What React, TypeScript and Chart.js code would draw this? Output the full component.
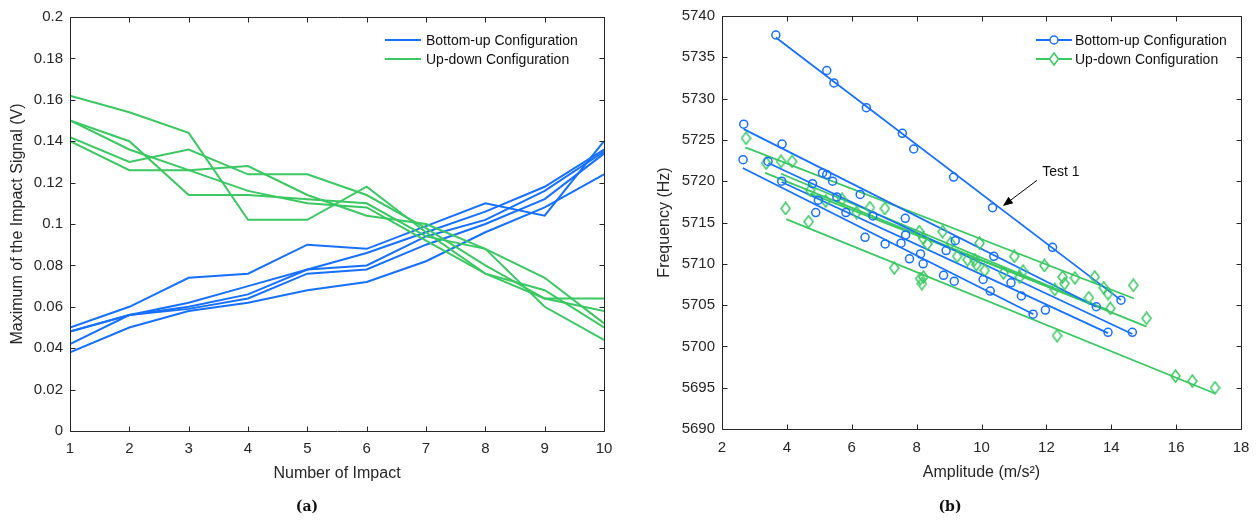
import React, { useEffect, useRef } from 'react';
import { Chart, registerables } from 'chart.js';

Chart.register(...registerables);

// ---------- (a) Maximum of the impact signal ----------
const impactNumbers = [1, 2, 3, 4, 5, 6, 7, 8, 9, 10];
const bottomUpTest1 = [0.050, 0.060, 0.074, 0.076, 0.090, 0.088, 0.099, 0.110, 0.104, 0.140];
const bottomUpTest2 = [0.048, 0.056, 0.062, 0.070, 0.078, 0.086, 0.096, 0.106, 0.118, 0.136];
const bottomUpTest3 = [0.042, 0.056, 0.060, 0.066, 0.078, 0.080, 0.094, 0.102, 0.116, 0.135];
const bottomUpTest4 = [0.048, 0.056, 0.059, 0.064, 0.076, 0.078, 0.090, 0.100, 0.112, 0.134];
const bottomUpTest5 = [0.038, 0.050, 0.058, 0.062, 0.068, 0.072, 0.082, 0.096, 0.108, 0.124];
const upDownTest1 = [0.162, 0.154, 0.144, 0.102, 0.102, 0.118, 0.096, 0.076, 0.064, 0.064];
const upDownTest2 = [0.150, 0.140, 0.114, 0.114, 0.112, 0.110, 0.094, 0.088, 0.060, 0.044];
const upDownTest3 = [0.150, 0.136, 0.126, 0.116, 0.110, 0.108, 0.092, 0.076, 0.068, 0.050];
const upDownTest4 = [0.142, 0.130, 0.136, 0.124, 0.124, 0.114, 0.098, 0.080, 0.064, 0.058];
const upDownTest5 = [0.140, 0.126, 0.126, 0.128, 0.114, 0.104, 0.100, 0.088, 0.074, 0.052];

// ---------- (b) Frequency vs amplitude ----------
const bottomUpAmp = [
  3.66, 5.23, 5.45, 6.45, 7.56, 7.91, 9.14, 10.34, 12.19, 14.3,
  2.67, 2.65, 3.85, 3.42, 3.84, 4.79, 5.10, 5.23, 5.41, 4.97,
  5.54, 6.26, 4.89, 5.82, 6.65, 6.41, 7.03, 7.52, 7.65, 7.66,
  7.78, 8.12, 8.20, 8.83, 8.91, 9.19, 9.16, 10.05, 10.38, 10.27,
  10.91, 11.23, 11.59, 11.97, 13.54, 13.9, 14.65,
];
const bottomUpFreq = [
  5737.7, 5733.4, 5731.9, 5728.9, 5725.8, 5723.9, 5720.5, 5716.8, 5712.0, 5705.6,
  5726.9, 5722.6, 5724.5, 5722.4, 5720.0, 5719.7, 5721.0, 5720.8, 5720.0, 5717.7,
  5718.1, 5718.4, 5716.2, 5716.2, 5715.8, 5713.2, 5712.4, 5712.5, 5715.5, 5713.5,
  5710.6, 5711.2, 5710.0, 5708.6, 5711.6, 5712.8, 5707.9, 5708.1, 5710.9, 5706.7,
  5707.7, 5706.1, 5703.9, 5704.4, 5704.8, 5701.7, 5701.7,
];
const upDownAmp = [
  2.74, 3.36, 3.82, 4.16, 4.72, 5.20, 5.70, 6.15, 6.56, 7.02,
  3.96, 4.67, 8.08, 8.20, 8.33, 8.80, 9.05, 9.25, 7.31, 8.11,
  8.21, 8.16, 9.94, 9.57, 9.79, 9.84, 10.10, 11.01, 10.68, 11.28,
  11.18, 11.94, 12.26, 12.50, 12.56, 12.88, 13.31, 13.49, 13.77, 13.90,
  13.97, 14.68, 15.09, 12.33, 15.98, 16.50, 17.20,
];
const upDownFreq = [
  5725.2, 5722.2, 5722.4, 5722.4, 5718.9, 5717.6, 5717.8, 5716.2, 5716.8, 5716.7,
  5716.7, 5715.1, 5713.9, 5713.1, 5712.4, 5713.9, 5712.5, 5710.9, 5709.5, 5708.2,
  5708.4, 5707.6, 5712.5, 5710.5, 5710.5, 5709.9, 5709.2, 5710.9, 5708.9, 5709.1,
  5708.4, 5709.8, 5706.9, 5708.4, 5707.6, 5708.3, 5705.9, 5708.4, 5707.1, 5706.4,
  5704.6, 5707.4, 5703.4, 5701.3, 5696.4, 5695.8, 5695.0,
];
// fitted lines: [start, end]
const bottomUpFitAmp = [[3.66, 14.3], [2.67, 13.54], [3.43, 14.65], [3.84, 13.9], [2.64, 11.6]];
const bottomUpFitFreq = [[5737.4, 5705.6], [5726.3, 5704.8], [5722.2, 5701.5], [5719.9, 5701.6], [5721.6, 5703.9]];
const upDownFitAmp = [[2.72, 14.7], [3.33, 15.09], [3.82, 13.49], [4.72, 13.91], [3.98, 17.2]];
const upDownFitFreq = [[5724.1, 5705.8], [5721.0, 5702.4], [5720.9, 5705.0], [5718.5, 5704.4], [5715.4, 5694.3]];

const leftTicksY = { min: 0, max: 0.2, step: 0.02 };
const rightTicksY = { min: 5690, max: 5740, step: 5 };
const rightTicksX = { min: 2, max: 18, step: 2 };

const BLUE = 'rgb(22,112,255)';
const GREEN = 'rgb(58,200,98)';
const AXIS = '#262626';
const FONT = '"Liberation Sans", Arial, Helvetica, sans-serif';

Chart.defaults.font.family = FONT;
Chart.defaults.color = AXIS;

function makeDiamond(color: string) {
  const c = document.createElement('canvas');
  c.width = 11;
  c.height = 14;
  const g = c.getContext('2d')!;
  g.strokeStyle = color;
  g.lineWidth = 1.5;
  g.beginPath();
  g.moveTo(5.5, 1);
  g.lineTo(10, 7);
  g.lineTo(5.5, 13);
  g.lineTo(1, 7);
  g.closePath();
  g.stroke();
  return c;
}

const framePlugin = {
  id: 'matlabFrame',
  afterDraw(chart: any) {
    const { ctx, chartArea: a, scales } = chart;
    const L = 5;
    ctx.save();
    ctx.strokeStyle = AXIS;
    ctx.lineWidth = 1;
    ctx.beginPath();
    const l = Math.round(a.left) + 0.5, r = Math.round(a.right) + 0.5;
    const t = Math.round(a.top) + 0.5, b = Math.round(a.bottom) + 0.5;
    ctx.rect(l, t, r - l, b - t);
    scales.x.ticks.forEach((tk: any) => {
      const px = Math.round(scales.x.getPixelForValue(tk.value)) + 0.5;
      ctx.moveTo(px, b); ctx.lineTo(px, b - L);
      ctx.moveTo(px, t); ctx.lineTo(px, t + L);
    });
    scales.y.ticks.forEach((tk: any) => {
      const py = Math.round(scales.y.getPixelForValue(tk.value)) + 0.5;
      ctx.moveTo(l, py); ctx.lineTo(l + L, py);
      ctx.moveTo(r, py); ctx.lineTo(r - L, py);
    });
    ctx.stroke();
    ctx.restore();
  },
};

function legendPlugin(items: { label: string; color: string; marker?: 'circle' | 'diamond' }[], x0: number, x1: number, tx: number, y0: number, dy: number) {
  return {
    id: 'customLegend',
    afterDraw(chart: any) {
      const { ctx } = chart;
      ctx.save();
      items.forEach((it, i) => {
        const y = y0 + i * dy;
        ctx.strokeStyle = it.color;
        ctx.lineWidth = 1.8;
        ctx.beginPath();
        ctx.moveTo(x0, y);
        ctx.lineTo(x1, y);
        ctx.stroke();
        const cx = (x0 + x1) / 2;
        if (it.marker === 'circle') {
          ctx.fillStyle = '#fff';
          ctx.lineWidth = 1.5;
          ctx.beginPath();
          ctx.arc(cx, y, 4, 0, Math.PI * 2);
          ctx.fill();
          ctx.stroke();
        } else if (it.marker === 'diamond') {
          ctx.fillStyle = '#fff';
          ctx.lineWidth = 1.5;
          ctx.beginPath();
          ctx.moveTo(cx, y - 6);
          ctx.lineTo(cx + 4.5, y);
          ctx.lineTo(cx, y + 6);
          ctx.lineTo(cx - 4.5, y);
          ctx.closePath();
          ctx.fill();
          ctx.stroke();
        }
        ctx.fillStyle = '#111';
        ctx.font = `14px ${FONT}`;
        ctx.textBaseline = 'middle';
        ctx.textAlign = 'left';
        ctx.fillText(it.label, tx, y + 1);
      });
      ctx.restore();
    },
  };
}

const testLabelPlugin = {
  id: 'testLabel',
  afterDraw(chart: any) {
    const { ctx, scales } = chart;
    const x = scales.x, y = scales.y;
    const tailX = x.getPixelForValue(11.71), tailY = y.getPixelForValue(5720.1);
    const headX = x.getPixelForValue(10.66), headY = y.getPixelForValue(5717.0);
    ctx.save();
    ctx.strokeStyle = '#000';
    ctx.fillStyle = '#000';
    ctx.lineWidth = 1;
    const ang = Math.atan2(headY - tailY, headX - tailX);
    const hl = 10, hw = 4;
    const bx = headX - hl * Math.cos(ang), by = headY - hl * Math.sin(ang);
    ctx.beginPath();
    ctx.moveTo(tailX, tailY);
    ctx.lineTo(bx, by);
    ctx.stroke();
    ctx.beginPath();
    ctx.moveTo(headX, headY);
    ctx.lineTo(bx + hw * Math.sin(ang), by - hw * Math.cos(ang));
    ctx.lineTo(bx - hw * Math.sin(ang), by + hw * Math.cos(ang));
    ctx.closePath();
    ctx.fill();
    ctx.font = `14px ${FONT}`;
    ctx.textBaseline = 'middle';
    ctx.textAlign = 'left';
    ctx.fillStyle = '#111';
    ctx.fillText('Test 1', x.getPixelForValue(11.87), y.getPixelForValue(5721.1));
    ctx.restore();
  },
};

const tickFont = { size: 15, family: FONT };
const titleFont = { size: 16, family: FONT };

export default function App() {
  const leftRef = useRef<HTMLCanvasElement>(null);
  const rightRef = useRef<HTMLCanvasElement>(null);

  useEffect(() => {
    const lineDs = (vals: number[], color: string) => ({
      type: 'line' as const,
      data: vals.map((v, i) => ({ x: impactNumbers[i], y: v })),
      borderColor: color,
      borderWidth: 2,
      pointRadius: 0,
      fill: false,
      tension: 0,
    });
    const left = new Chart(leftRef.current!, {
      type: 'line',
      data: {
        datasets: [
          ...[upDownTest1, upDownTest2, upDownTest3, upDownTest4, upDownTest5].map((d) => lineDs(d, GREEN)),
          ...[bottomUpTest1, bottomUpTest2, bottomUpTest3, bottomUpTest4, bottomUpTest5].map((d) => lineDs(d, BLUE)),
        ],
      },
      options: {
        responsive: false,
        animation: false,
        layout: { padding: { left: 0, right: 26, top: 17, bottom: 0 } },
        plugins: { legend: { display: false }, tooltip: { enabled: false } },
        scales: {
          x: {
            type: 'linear',
            min: 1,
            max: 10,
            grid: { display: false, drawTicks: false },
            border: { display: false },
            ticks: { stepSize: 1, font: tickFont, color: AXIS, padding: 9, autoSkip: false, maxRotation: 0 },
            title: { display: true, text: 'Number of Impact', font: titleFont, color: AXIS, padding: { top: 0, bottom: 37 } },
            afterFit: (s: any) => { s.height = 89; },
          },
          y: {
            type: 'linear',
            min: leftTicksY.min,
            max: leftTicksY.max,
            grid: { display: false, drawTicks: false },
            border: { display: false },
            ticks: {
              stepSize: leftTicksY.step,
              font: tickFont,
              color: AXIS,
              padding: 7,
              autoSkip: false,
              callback: (v: any) => String(parseFloat(Number(v).toFixed(2))),
            },
            title: { display: true, text: 'Maximum of the Impact Signal (V)', font: titleFont, color: AXIS, padding: { top: 8, bottom: 0 } },
            afterFit: (s: any) => { s.width = 70; },
          },
        },
      },
      plugins: [
        framePlugin,
        legendPlugin(
          [
            { label: 'Bottom-up Configuration', color: BLUE },
            { label: 'Up-down Configuration', color: GREEN },
          ],
          385, 421, 426, 40, 19,
        ),
      ],
    } as any);

    const diamond = makeDiamond(GREEN);
    const fitDs = (xs: number[], ys: number[], color: string) => ({
      type: 'line' as const,
      data: [{ x: xs[0], y: ys[0] }, { x: xs[1], y: ys[1] }],
      borderColor: color,
      borderWidth: 1.8,
      pointRadius: 0,
      fill: false,
    });
    const right = new Chart(rightRef.current!, {
      type: 'scatter',
      data: {
        datasets: [
          {
            type: 'scatter',
            data: bottomUpAmp.map((a, i) => ({ x: a, y: bottomUpFreq[i] })),
            pointStyle: 'circle',
            pointRadius: 4,
            pointBorderWidth: 1.5,
            pointBorderColor: BLUE,
            pointBackgroundColor: 'rgba(0,0,0,0)',
          },
          {
            type: 'scatter',
            data: upDownAmp.map((a, i) => ({ x: a, y: upDownFreq[i] })),
            pointStyle: diamond,
            pointRadius: 6,
            pointBorderColor: GREEN,
            pointBackgroundColor: 'rgba(0,0,0,0)',
          },
          ...bottomUpFitAmp.map((xs, i) => fitDs(xs, bottomUpFitFreq[i], BLUE)),
          ...upDownFitAmp.map((xs, i) => fitDs(xs, upDownFitFreq[i], GREEN)),
        ],
      },
      options: {
        responsive: false,
        animation: false,
        layout: { padding: { left: 0, right: 19, top: 16, bottom: 0 } },
        plugins: { legend: { display: false }, tooltip: { enabled: false } },
        scales: {
          x: {
            type: 'linear',
            min: rightTicksX.min,
            max: rightTicksX.max,
            grid: { display: false, drawTicks: false },
            border: { display: false },
            ticks: { stepSize: rightTicksX.step, font: tickFont, color: AXIS, padding: 10, autoSkip: false, maxRotation: 0 },
            title: { display: true, text: 'Amplitude (m/s²)', font: titleFont, color: AXIS, padding: { top: 0, bottom: 38 } },
            afterFit: (s: any) => { s.height = 91; },
          },
          y: {
            type: 'linear',
            min: rightTicksY.min,
            max: rightTicksY.max,
            grid: { display: false, drawTicks: false },
            border: { display: false },
            ticks: {
              stepSize: rightTicksY.step,
              font: tickFont,
              color: AXIS,
              padding: 7,
              autoSkip: false,
              callback: (v: any) => String(Math.round(Number(v))),
            },
            title: { display: true, text: 'Frequency (Hz)', font: titleFont, color: AXIS, padding: { top: 25, bottom: 0 } },
            afterFit: (s: any) => { s.width = 92; },
          },
        },
      },
      plugins: [
        framePlugin,
        testLabelPlugin,
        legendPlugin(
          [
            { label: 'Bottom-up Configuration', color: BLUE, marker: 'circle' },
            { label: 'Up-down Configuration', color: GREEN, marker: 'diamond' },
          ],
          406, 442, 445, 40, 19,
        ),
      ],
    } as any);

    return () => {
      left.destroy();
      right.destroy();
    };
  }, []);

  const caption: React.CSSProperties = {
    position: 'absolute',
    width: 60,
    height: 20,
    lineHeight: '20px',
    textAlign: 'center',
    font: 'bold 14px "DejaVu Serif", "Liberation Serif", serif',
    color: '#111',
  };

  return (
    <div style={{ position: 'fixed', left: 0, top: 0, width: 1260, height: 520, background: '#fff', overflow: 'hidden' }}>
      <canvas ref={leftRef} width={630} height={520} style={{ position: 'absolute', left: 0, top: 0 }} />
      <canvas ref={rightRef} width={630} height={520} style={{ position: 'absolute', left: 630, top: 0 }} />
      <div style={{ ...caption, left: 307 - 30, top: 498 }}>(a)</div>
      <div style={{ ...caption, left: 950 - 30, top: 498 }}>(b)</div>
    </div>
  );
}
